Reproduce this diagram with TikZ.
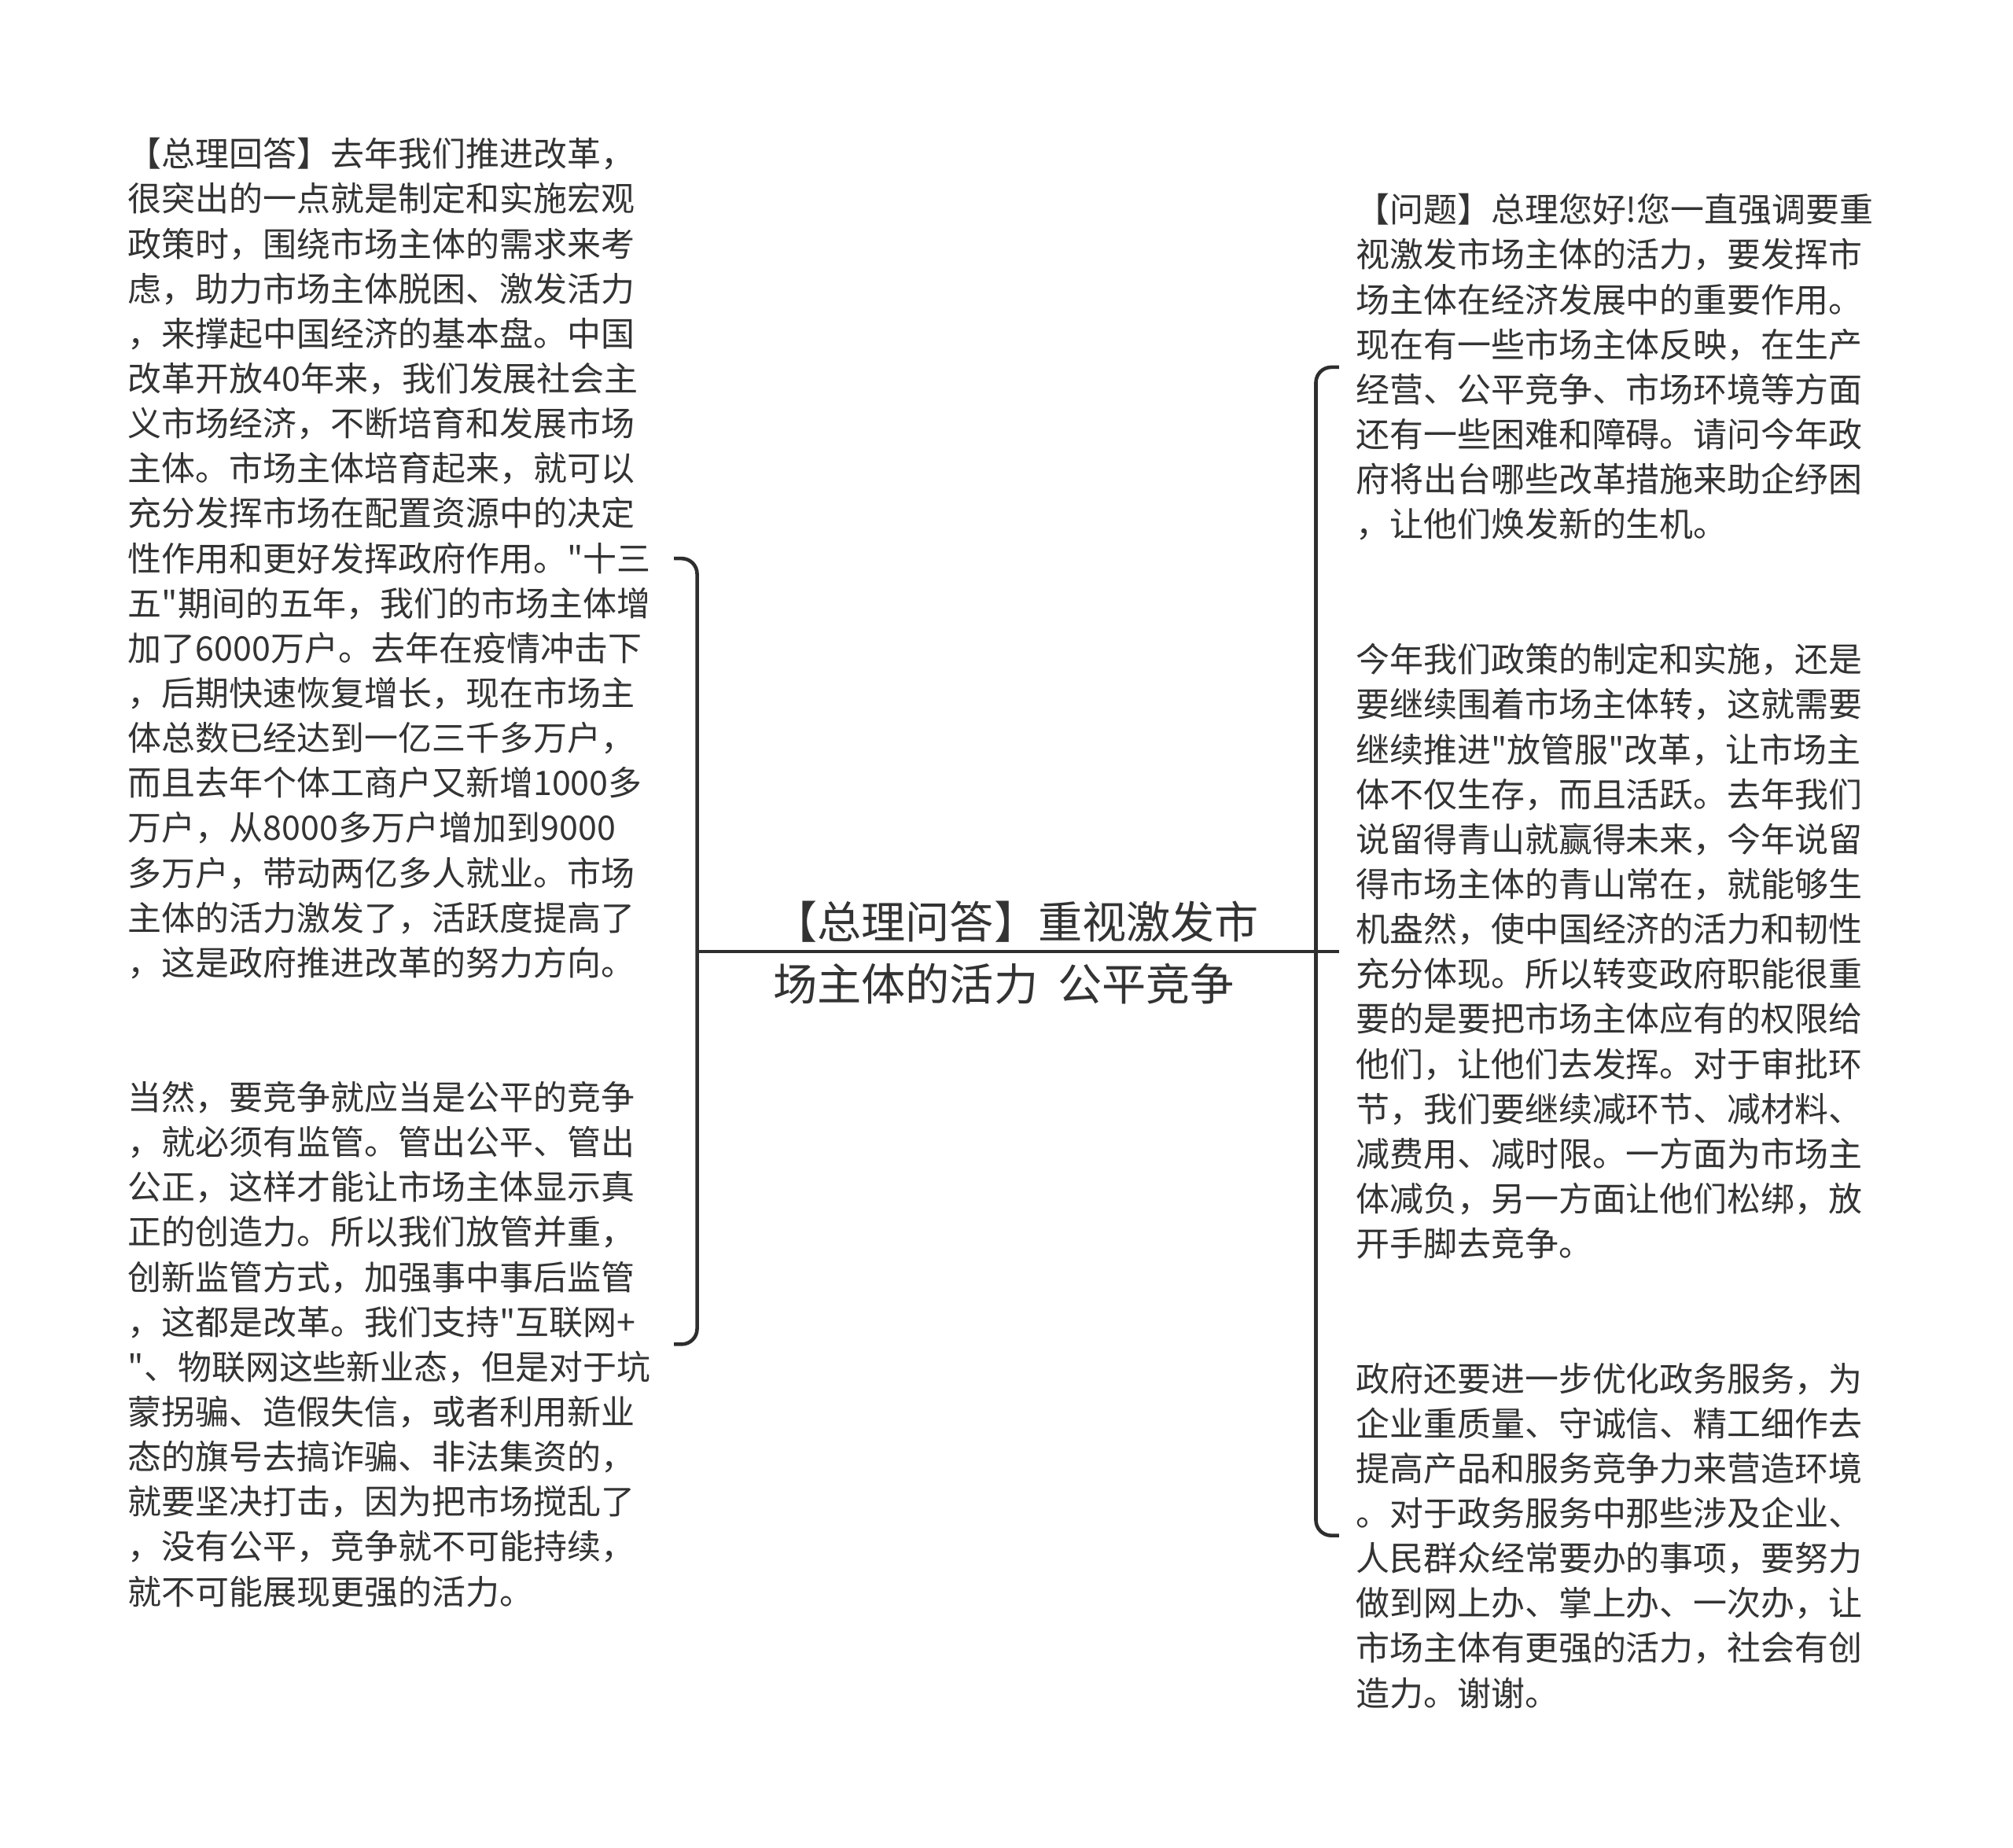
\documentclass[tikz,border=0pt]{standalone}
\usepackage{fontspec}
\newfontfamily\mapfont{Noto Sans CJK SC}
\usepackage{tikz}
\usetikzlibrary{positioning}
\definecolor{mapink}{HTML}{333333}
\definecolor{mapline}{HTML}{2E2E2E}

\begin{document}
\begin{tikzpicture}[x=1pt,y=-1pt,
  leaf/.style={text=mapink,font=\mapfont\fontsize{26.3}{35}\selectfont,align=left,text width=412pt,inner xsep=13pt,inner ysep=0pt},
  topic/.style={text=mapink,font=\mapfont\fontsize{34.4}{48}\selectfont,align=left,inner sep=0pt},
  link/.style={draw=mapline,line width=2.8pt,rounded corners=12pt}]
  \useasboundingbox (0,0) rectangle (1568,1439);

  % Root
  \node[topic,anchor=west] (root) at (602,742) {【总理问答】重视激发市\\场主体的活力\hspace{0.45em}公平竞争};
  \coordinate (hubL) at (543,741);
  \coordinate (hubR) at (1025,741);

  % Left side
  \node[leaf,anchor=east] (lq) at (525,435) {【总理回答】去年我们推进改革，\\很突出的一点就是制定和实施宏观\\政策时，围绕市场主体的需求来考\\虑，助力市场主体脱困、激发活力\\，来撑起中国经济的基本盘。中国\\改革开放40年来，我们发展社会主\\义市场经济，不断培育和发展市场\\主体。市场主体培育起来，就可以\\充分发挥市场在配置资源中的决定\\性作用和更好发挥政府作用。"十三\\五"期间的五年，我们的市场主体增\\加了6000万户。去年在疫情冲击下\\，后期快速恢复增长，现在市场主\\体总数已经达到一亿三千多万户，\\而且去年个体工商户又新增1000多\\万户，从8000多万户增加到9000\\多万户，带动两亿多人就业。市场\\主体的活力激发了，活跃度提高了\\，这是政府推进改革的努力方向。};
  \node[leaf,anchor=east] (lc) at (525,1047) {当然，要竞争就应当是公平的竞争\\，就必须有监管。管出公平、管出\\公正，这样才能让市场主体显示真\\正的创造力。所以我们放管并重，\\创新监管方式，加强事中事后监管\\，这都是改革。我们支持"互联网+\\"、物联网这些新业态，但是对于坑\\蒙拐骗、造假失信，或者利用新业\\态的旗号去搞诈骗、非法集资的，\\就要坚决打击，因为把市场搅乱了\\，没有公平，竞争就不可能持续，\\就不可能展现更强的活力。};

  % Right side
  \node[leaf,anchor=west] (rq) at (1043,286) {【问题】总理您好!您一直强调要重\\视激发市场主体的活力，要发挥市\\场主体在经济发展中的重要作用。\\现在有一些市场主体反映，在生产\\经营、公平竞争、市场环境等方面\\还有一些困难和障碍。请问今年政\\府将出台哪些改革措施来助企纾困\\，让他们焕发新的生机。};
  \node[leaf,anchor=west] (rn) at (1043,741) {今年我们政策的制定和实施，还是\\要继续围着市场主体转，这就需要\\继续推进"放管服"改革，让市场主\\体不仅生存，而且活跃。去年我们\\说留得青山就赢得未来，今年说留\\得市场主体的青山常在，就能够生\\机盎然，使中国经济的活力和韧性\\充分体现。所以转变政府职能很重\\要的是要把市场主体应有的权限给\\他们，让他们去发挥。对于审批环\\节，我们要继续减环节、减材料、\\减费用、减时限。一方面为市场主\\体减负，另一方面让他们松绑，放\\开手脚去竞争。};
  \node[leaf,anchor=west] (rg) at (1043,1196) {政府还要进一步优化政务服务，为\\企业重质量、守诚信、精工细作去\\提高产品和服务竞争力来营造环境\\。对于政务服务中那些涉及企业、\\人民群众经常要办的事项，要努力\\做到网上办、掌上办、一次办，让\\市场主体有更强的活力，社会有创\\造力。谢谢。};

  % Connectors
  \draw[link] (hubL) -- (hubR);
  \draw[link] (hubL) |- (lq.east);
  \draw[link] (hubL) |- (lc.east);
  \draw[link] (hubR) |- (rq.west);
  \draw[link] (hubR) -- (hubR -| rn.west);
  \draw[link] (hubR) |- (rg.west);
\end{tikzpicture}
\end{document}
